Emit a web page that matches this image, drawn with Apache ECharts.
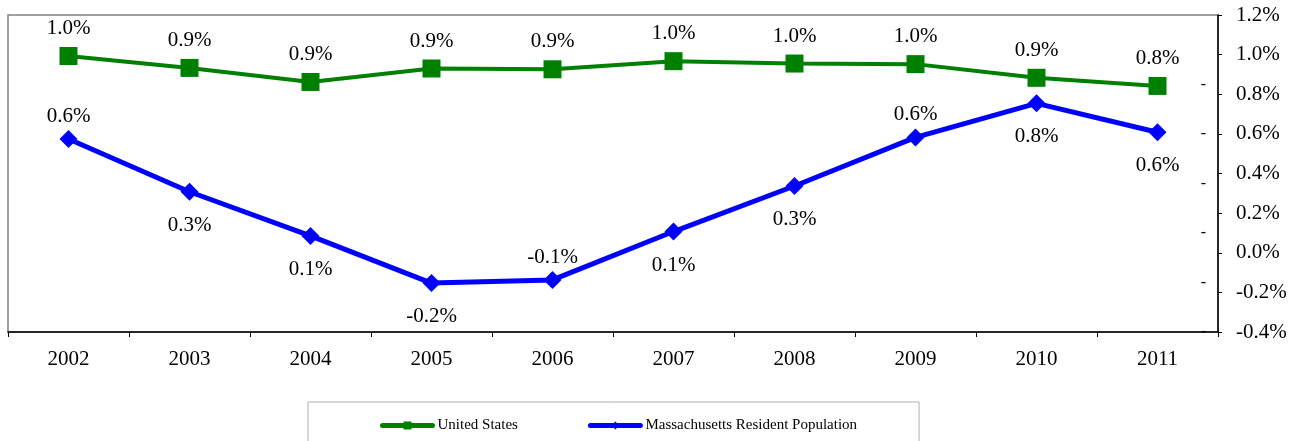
<!DOCTYPE html>
<html>
<head>
<meta charset="utf-8">
<script src="https://cdn.jsdelivr.net/npm/echarts@6/dist/echarts.min.js"></script>
<style>
  html, body { margin: 0; padding: 0; background: #fff; }
  #main { width: 1298px; height: 441px; }
</style>
</head>
<body>
<div id="main"></div>
<script>
var years = ['2002', '2003', '2004', '2005', '2006', '2007', '2008', '2009', '2010', '2011'];
// annual growth rate, percent
var usValues = [0.993, 0.933, 0.862, 0.930, 0.926, 0.967, 0.955, 0.952, 0.883, 0.842];
var maValues = [0.574, 0.308, 0.085, -0.153, -0.137, 0.107, 0.337, 0.582, 0.754, 0.608];
var yTicks = { min: -0.4, max: 1.2, interval: 0.2 };

// where the MA labels sit (above / below the point)
var maLabelPos = ['top', 'bottom', 'bottom', 'bottom', 'top', 'bottom', 'bottom', 'top', 'bottom', 'bottom'];

var font = 'Liberation Serif, Times New Roman, serif';

function pct(v) {
  return v.toFixed(1) + '%';
}

var chart = echarts.init(document.getElementById('main'), null, { renderer: 'canvas' });

var maData = [];
for (let i = 0; i < maValues.length; i++) {
  let pos = maLabelPos[i];
  maData.push({
    value: maValues[i],
    label: { position: pos, distance: pos === 'top' ? 3 : 14 }
  });
}

var option = {
  backgroundColor: '#fff',
  animation: false,
  textStyle: { fontFamily: font },
  grid: {
    left: 8,
    right: 80,
    top: 15,
    bottom: 109,
    show: true,
    borderColor: '#808080',
    borderWidth: 1.5
  },
  legend: {
    bottom: -28,
    left: 308,
    width: 610,
    padding: [16, 62, 36, 72],
    borderColor: '#b0b0b0',
    borderWidth: 1,
    itemWidth: 50,
    itemHeight: 10,
    itemGap: 70,
    lineStyle: { width: 5, cap: 'round' },
    textStyle: { fontFamily: font, fontSize: 15, color: '#000' },
    data: ['United States', 'Massachusetts Resident Population']
  },
  xAxis: {
    type: 'category',
    data: years,
    boundaryGap: true,
    axisLine: { onZero: false, lineStyle: { color: '#000', width: 1.5 } },
    axisTick: { show: true, length: 5, interval: 0, lineStyle: { color: '#000' } },
    axisLabel: { fontFamily: font, fontSize: 21, color: '#000', margin: 17 },
    splitLine: { show: false }
  },
  yAxis: [{
    type: 'value',
    position: 'right',
    min: yTicks.min,
    max: yTicks.max,
    interval: yTicks.interval,
    axisLine: { show: true, lineStyle: { color: '#000', width: 1.5 } },
    axisTick: { show: true, length: 4, lineStyle: { color: '#000' } },
    axisLabel: { fontFamily: font, fontSize: 21, color: '#000', margin: 18, formatter: pct },
    splitLine: { show: false }
  }, {
    // stray dash marks next to the value axis
    type: 'value',
    position: 'right',
    min: 0,
    max: 6.4,
    interval: 1,
    axisLine: { show: false },
    axisTick: { show: false },
    axisLabel: {
      inside: true,
      margin: 12,
      fontFamily: font,
      fontSize: 16,
      color: '#000',
      showMaxLabel: false,
      formatter: function (v) { return v < 6 ? '-' : ''; }
    },
    splitLine: { show: false }
  }],
  series: [{
    name: 'United States',
    type: 'line',
    data: usValues,
    color: '#008000',
    symbol: 'rect',
    symbolSize: 18,
    lineStyle: { width: 4, color: '#008000' },
    itemStyle: { color: '#008000' },
    label: {
      show: true,
      position: 'top',
      distance: 8,
      fontFamily: font,
      fontSize: 21,
      color: '#000',
      formatter: function (p) { return pct(p.value); }
    },
    z: 3
  }, {
    name: 'Massachusetts Resident Population',
    type: 'line',
    data: maData,
    color: '#0000ff',
    symbol: 'diamond',
    symbolSize: 18,
    lineStyle: { width: 5, color: '#0000ff' },
    itemStyle: { color: '#0000ff' },
    label: {
      show: true,
      fontFamily: font,
      fontSize: 21,
      color: '#000',
      formatter: function (p) { return pct(p.value); }
    },
    z: 4
  }]
};

chart.setOption(option);
</script>
</body>
</html>
